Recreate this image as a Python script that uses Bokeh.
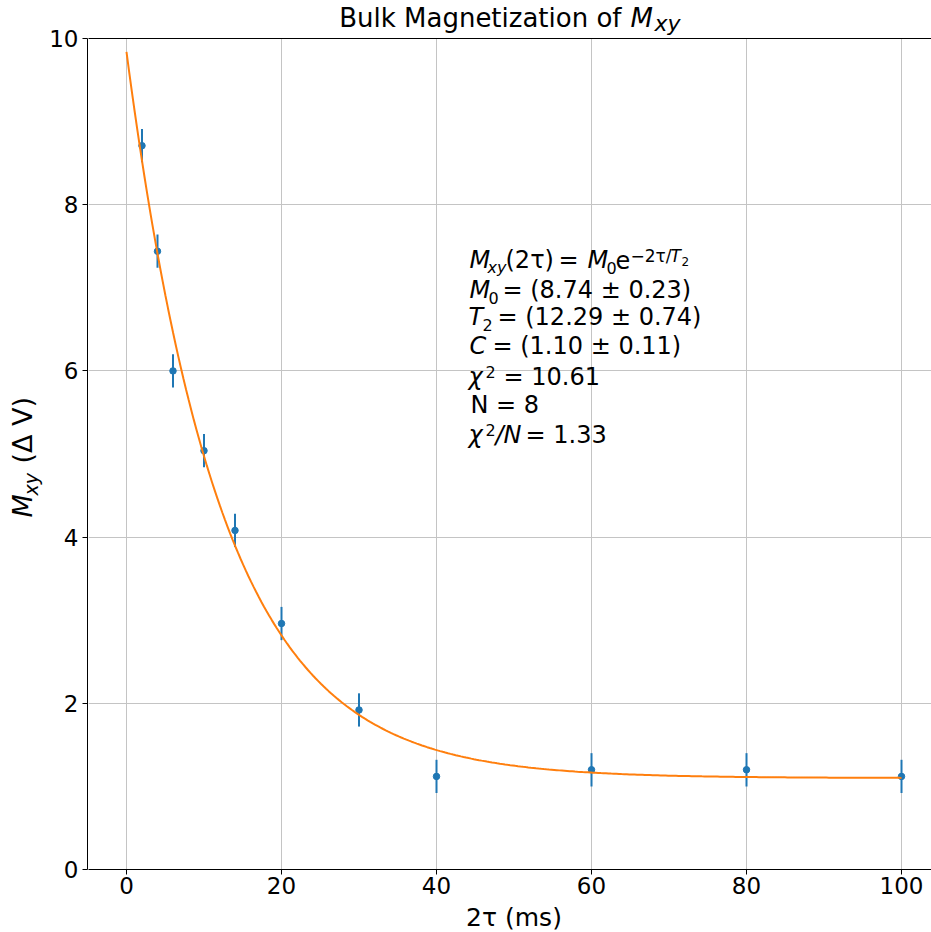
import numpy as np
from bokeh.plotting import figure
from bokeh.models import Range1d, FixedTicker, LinearAxis, Label
from bokeh.layouts import row, column
from bokeh.core.properties import value
from bokeh.embed import file_html
from bokeh.resources import INLINE

# ---- data ----
tau2 = [2, 4, 6, 10, 14, 20, 30, 40, 60, 80, 100]          # 2tau (ms)
mxy = [8.71, 7.44, 6.00, 5.04, 4.08, 2.96, 1.92, 1.12, 1.20, 1.20, 1.12]
mxy_err = [0.2, 0.2, 0.2, 0.2, 0.2, 0.2, 0.2, 0.2, 0.2, 0.2, 0.2]

# fitted parameters shown on the chart
M0 = 8.74
T2 = 12.29
C = 1.10

x_ticks = [0, 20, 40, 60, 80, 100]
y_ticks = [0, 2, 4, 6, 8, 10]

FONT = "DejaVu Sans"
BLUE = "#1f77b4"
ORANGE = "#ff7f0e"
PAGE_H = 932
MID = 0.36  # distance from alphabetic baseline to text middle, in em
BOTTOM = 34  # space below the plot frame for the x tick labels

yr = Range1d(0, 10)


def style_axis(ax, standoff):
    ax.major_label_text_font = FONT
    ax.major_label_text_font_size = "23px"
    ax.major_label_text_color = "black"
    ax.axis_line_color = "black"
    ax.axis_line_width = 1
    ax.major_tick_line_color = "black"
    ax.major_tick_out = 5
    ax.major_tick_in = 0
    ax.minor_tick_out = 0
    ax.minor_tick_in = 0
    ax.major_label_standoff = standoff


# ---------------- main plot (page x 88..931, y 37..903) ----------------
p = figure(width=843, height=1 + 831 + BOTTOM, output_backend="svg", toolbar_location=None,
           title=None, x_range=Range1d(-4.903, 103.87), y_range=yr,
           y_axis_location=None,
           min_border_left=0, min_border_right=0, min_border_top=1,
           min_border_bottom=BOTTOM)
p.outline_line_color = None
p.background_fill_color = "white"
p.border_fill_color = "white"
style_axis(p.xaxis[0], 2)
p.xaxis.ticker = FixedTicker(ticks=x_ticks)

top_axis = LinearAxis(ticker=FixedTicker(ticks=[]), major_tick_out=0, major_tick_in=0,
                      minor_tick_out=0, minor_tick_in=0,
                      major_label_text_font_size="0px", axis_line_color="black")
p.add_layout(top_axis, "above")

p.xgrid.ticker = FixedTicker(ticks=x_ticks)
p.ygrid.ticker = FixedTicker(ticks=y_ticks)
p.grid.grid_line_color = "#c4c4c4"
p.grid.grid_line_width = 1

lo = [v - e for v, e in zip(mxy, mxy_err)]
hi = [v + e for v, e in zip(mxy, mxy_err)]
p.segment(x0=tau2, y0=lo, x1=tau2, y1=hi, line_color=BLUE, line_width=2)
p.scatter(x=tau2, y=mxy, marker="circle", size=6.5, fill_color=BLUE, line_color=BLUE)

fit_x = np.linspace(0, 100, 300)
fit_y = M0 * np.exp(-fit_x / T2) + C
p.line(fit_x, fit_y, line_color=ORANGE, line_width=2)


def px_x(px):
    return (px - 126.0) / 7.75


def px_y(py):
    return (869.0 - py) / 83.1


def lab(xp, yb, text, size, italic=False):
    p.add_layout(Label(x=px_x(xp), y=px_y(yb - MID * size), text=text, text_font=FONT,
                       text_font_size=f"{size}px",
                       text_font_style="italic" if italic else "normal",
                       text_align="left", text_baseline="middle",
                       text_color="black"))


S = 24
s = 16
# line 1
lab(469, 268, "M", S, True)
lab(487, 273, "xy", s, True)
lab(505, 268, "(2τ)", S)
lab(558, 268, "=", S)
lab(587, 268, "M", S, True)
lab(606, 273, "0", s)
lab(615, 268, "e", S)
lab(630, 261.5, "−2τ/", 17)
lab(670, 261.5, "T", 17, True)
lab(681, 265, "2", 12)
# line 2
lab(469, 298, "M", S, True)
lab(488, 303, "0", s)
lab(502, 298, "= (8.74 ± 0.23)", S)
# line 3
lab(468, 325, "T", S, True)
lab(482, 330, "2", s)
lab(497, 325, "= (12.29 ± 0.74)", S)
# line 4
lab(469, 354, "C", S, True)
lab(492, 354, "= (1.10 ± 0.11)", S)
# line 5
lab(468, 385, "χ", S, True)
lab(485, 377, "2", s)
lab(503, 385, "= 10.61", S)
# line 6
lab(470, 413, "N = 8", S)
# line 7
lab(468, 443, "χ", S, True)
lab(485, 435, "2", s)
lab(495, 443, "/N", S, True)
lab(525, 443, "= 1.33", S)

# ---------------- y-axis strip (page x 44..88) ----------------
pa = figure(width=44, height=PAGE_H, output_backend="svg", toolbar_location=None,
            title=None, x_range=Range1d(0, 1), y_range=yr, x_axis_location=None,
            min_border_left=43, min_border_right=0, min_border_top=38,
            min_border_bottom=PAGE_H - 869)
pa.outline_line_color = None
pa.grid.visible = False
style_axis(pa.yaxis[0], 4)
pa.yaxis.ticker = FixedTicker(ticks=y_ticks)


# ---------------- text strips (coordinates = page pixels, y measured upward) ----------------
def text_fig(x0, x1, y0, y1, top=0, bottom=0):
    f = figure(width=x1 - x0, height=y1 - y0, output_backend="svg",
               toolbar_location=None, title=None,
               x_range=Range1d(x0, x1),
               y_range=Range1d(PAGE_H - (y1 - bottom), PAGE_H - (y0 + top)),
               x_axis_location=None, y_axis_location=None,
               min_border_left=0, min_border_right=0,
               min_border_top=top, min_border_bottom=bottom)
    f.outline_line_color = None
    f.grid.visible = False
    return f


def put(f, px, pyb, text, size, italic=False, align="left", rotated=False):
    if rotated:
        x, y, ang = px - MID * size, PAGE_H - pyb, np.pi / 2
    else:
        x, y, ang = px, PAGE_H - (pyb - MID * size), 0.0
    f.text(x=[x], y=[y], text=[text], text_font=value(FONT),
           text_font_size=value(f"{size}px"),
           text_font_style="italic" if italic else "normal",
           text_align=align, text_baseline="middle",
           text_color="black", angle=ang)


# title strip (page x 88..931, y 0..37)
pt = text_fig(88, 931, 0, 37)
put(pt, 621, 27, "Bulk Magnetization of", 26, align="right")
put(pt, 630, 27, "M", 26, italic=True)
put(pt, 654, 31, "xy", 22, italic=True)

# x label strip (page x 88..931, below the main plot)
xl_top = 38 + 831 + BOTTOM
pxl = text_fig(88, 931, xl_top, PAGE_H)
put(pxl, 513.5, 926, "2τ (ms)", 25, align="center")

# y label strip (page x 0..44); frame aligned with the plot frame (y 38..869)
pyl = text_fig(0, 44, 0, PAGE_H, top=38, bottom=PAGE_H - 869)
put(pyl, 32, 517, "M", 27, italic=True, rotated=True)
put(pyl, 37, 495, "xy", 19, italic=True, rotated=True)
put(pyl, 32, 463, "(Δ V)", 27, rotated=True)

root = row(pyl, pa, column(pt, p, pxl))
open("out.html", "w").write(file_html(root, INLINE))
